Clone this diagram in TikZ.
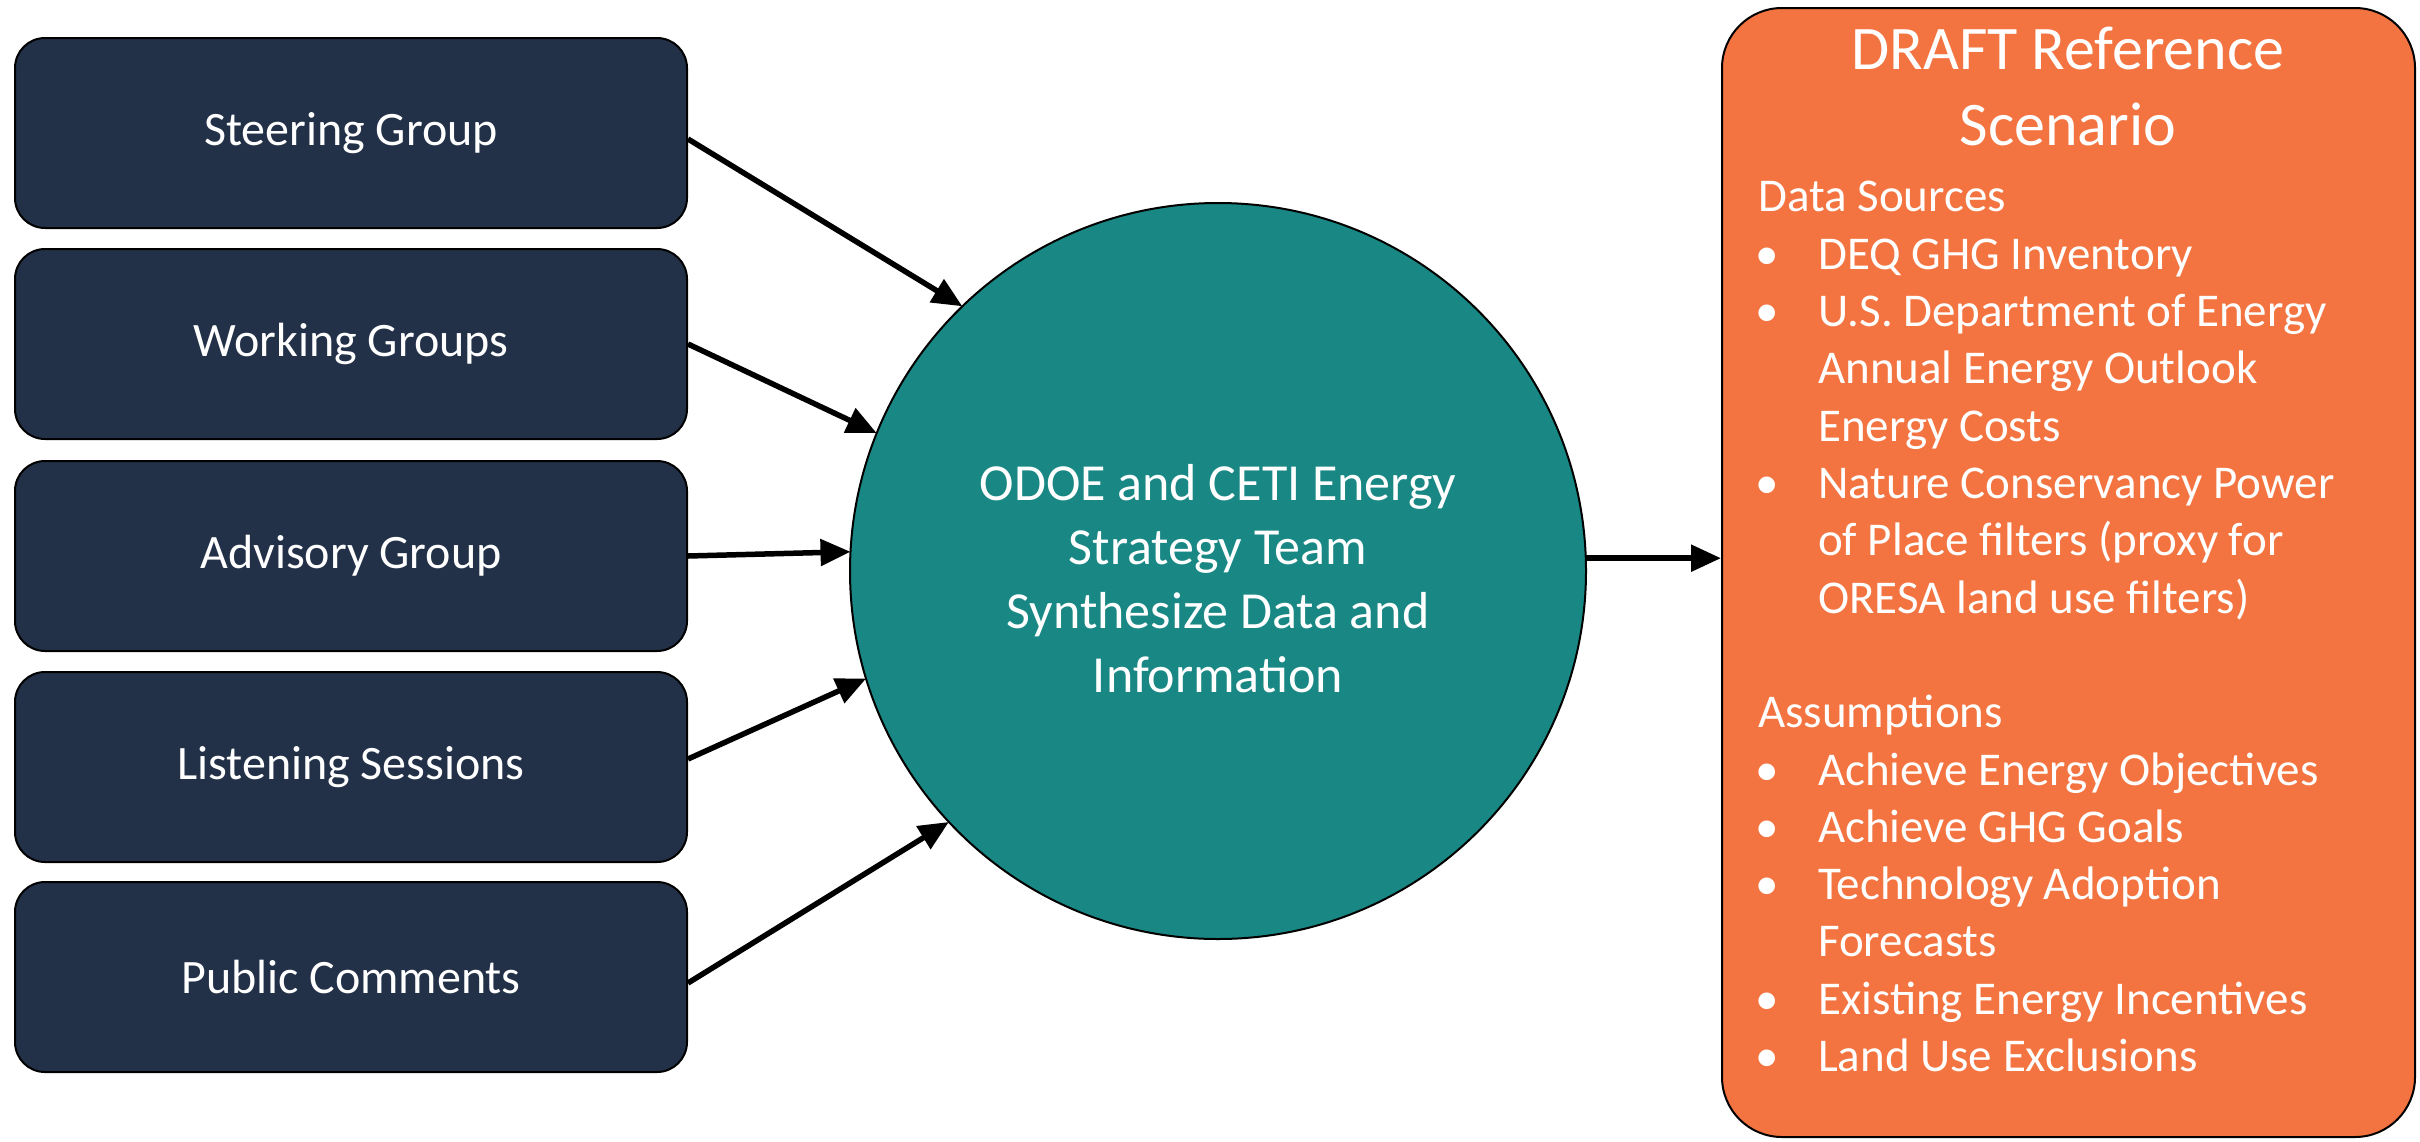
\documentclass[tikz,border=0pt]{standalone}
\usepackage{fontspec}
\setmainfont{Carlito}
\usetikzlibrary{arrows.meta,calc}
\definecolor{navy}{HTML}{233148}
\definecolor{tealc}{HTML}{198884}
\definecolor{orng}{HTML}{F37440}
\begin{document}
\begin{tikzpicture}[x=1pt,y=-1pt,
  grp/.style={draw=black, line width=2pt, fill=navy, rounded corners=30pt,
    minimum width=672pt, minimum height=190pt, inner sep=0pt, text=white,
    font=\fontsize{48}{58}\selectfont},
  arr/.style={line width=5.5pt, -{Triangle[length=30pt,width=26pt]}},
  otext/.style={text=white, inner sep=0pt, font=\fontsize{47}{56}\selectfont},
  ttl/.style={text=white, inner sep=0pt, font=\fontsize{62}{76}\selectfont}
]
\useasboundingbox (0,0) rectangle (2420,1141);

% left boxes
\node[grp] (s1) at (351,133) {\raisebox{-4pt}{Steering Group}};
\node[grp] (s2) at (351,344) {\raisebox{-4pt}{Working Groups}};
\node[grp] (s3) at (351,556) {\raisebox{-4pt}{Advisory Group}};
\node[grp] (s4) at (351,767) {\raisebox{-4pt}{Listening Sessions}};
\node[grp] (s5) at (351,977) {\raisebox{-4pt}{Public Comments}};

% circle
\node[circle, draw=black, line width=2pt, fill=tealc, minimum size=736pt,
  inner sep=0pt, outer sep=0pt] (c) at (1218,571) {};
\node[text=white, align=center, inner sep=0pt,
  font=\fontsize{52}{64}\selectfont] (ct) at (1218,579)
  {ODOE and CETI Energy\\Strategy Team\\Synthesize Data and\\Information};

% orange box
\node[draw=black, line width=2pt, fill=orng, rounded corners=60pt,
  minimum width=693pt, minimum height=1129pt, inner sep=0pt] (o) at (2068.5,572.5) {};

\node[ttl] (t1) at (2068,48) {DRAFT Reference};
\node[ttl] (t2) at (2068,124) {Scenario};

\newcommand{\hx}{1758}
\newcommand{\bx}{1767}
\newcommand{\tx}{1818}
\begin{scope}[yshift=-12pt]
\node[otext, anchor=mid west] (h1) at (\hx,197.6) {Data Sources};
\node[otext, anchor=mid] (b1) at (\bx,254.9) {•};
\node[otext, anchor=mid west] (l1) at (\tx,254.9) {DEQ GHG Inventory};
\node[otext, anchor=mid] (b2) at (\bx,312.2) {•};
\node[otext, anchor=mid west] (l2) at (\tx,312.2) {U.S. Department of Energy};
\node[otext, anchor=mid west] (l3) at (\tx,369.5) {Annual Energy Outlook};
\node[otext, anchor=mid west] (l4) at (\tx,426.8) {Energy Costs};
\node[otext, anchor=mid] (b3) at (\bx,484.1) {•};
\node[otext, anchor=mid west] (l5) at (\tx,484.1) {Nature Conservancy Power};
\node[otext, anchor=mid west] (l6) at (\tx,541.4) {of Place filters (proxy for};
\node[otext, anchor=mid west] (l7) at (\tx,598.7) {ORESA land use filters)};
\node[otext, anchor=mid west] (h2) at (\hx,713.3) {Assumptions};
\node[otext, anchor=mid] (b4) at (\bx,770.6) {•};
\node[otext, anchor=mid west] (m1) at (\tx,770.6) {Achieve Energy Objectives};
\node[otext, anchor=mid] (b5) at (\bx,827.9) {•};
\node[otext, anchor=mid west] (m2) at (\tx,827.9) {Achieve GHG Goals};
\node[otext, anchor=mid] (b6) at (\bx,885.2) {•};
\node[otext, anchor=mid west] (m3) at (\tx,885.2) {Technology Adoption};
\node[otext, anchor=mid west] (m4) at (\tx,942.5) {Forecasts};
\node[otext, anchor=mid] (b7) at (\bx,999.8) {•};
\node[otext, anchor=mid west] (m5) at (\tx,999.8) {Existing Energy Incentives};
\node[otext, anchor=mid] (b8) at (\bx,1057.1) {•};
\node[otext, anchor=mid west] (m6) at (\tx,1057.1) {Land Use Exclusions};
\end{scope}

% connectors
\draw[arr] ($(s1.east)+(0,6)$) -- (c.134.3);
\draw[arr] (s2.east) -- (c.158.4);
\draw[arr] (s3.east) -- (c.177.7);
\draw[arr] ($(s4.east)+(0,-8)$) -- (c.197.3);
\draw[arr] ($(s5.east)+(0,6)$) -- (c.223.5);
\draw[arr] (c.2.3) -- (c.2.3 -| o.west);
\end{tikzpicture}
\end{document}
